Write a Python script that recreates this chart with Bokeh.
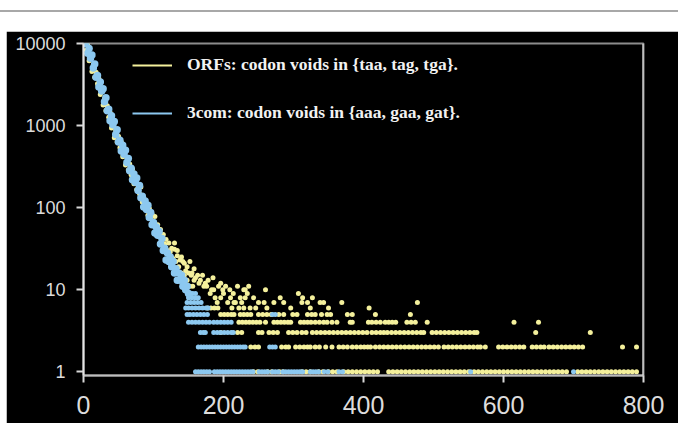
from bokeh.plotting import figure
from bokeh.models import (ColumnDataSource, Range1d, FixedTicker, NumeralTickFormatter,
                          Span, Legend, LegendItem, Div)
from bokeh.layouts import column, row
from bokeh.embed import file_html
from bokeh.resources import INLINE

# ---------------- data ----------------
x_ticks = [0, 200, 400, 600, 800]
y_ticks = [1, 10, 100, 1000, 10000]

label_orf = "ORFs: codon voids in {taa, tag, tga}."
label_3com = "3com: codon voids in {aaa, gaa, gat}."

# steep part, ORFs
orf_steep_x = [0, 2, 4, 6, 8, 10, 12, 14, 16, 18, 20, 22, 24, 26, 28, 30, 32, 34, 36, 38,
               40, 42, 44, 46, 48, 50, 52, 54, 56, 58, 60, 62, 64, 66, 68, 70, 72, 74, 76, 78,
               80, 82, 84, 86, 88, 90, 92, 94, 96, 98, 100, 102, 104, 106, 108, 110, 112, 114,
               116, 118, 120, 122, 124, 126, 128, 130, 132, 134, 136, 138, 140, 142, 144, 146,
               148, 150, 152, 154, 156, 158]
orf_steep_y = [10000, 11480, 8318, 9550, 6166, 6761, 4571, 5495, 3890, 4467, 3236, 3715, 2399,
               2630, 1778, 2138, 1514, 1738, 1259, 1445, 933, 1023, 708, 871, 631, 741, 537, 631,
               417, 468, 331, 407, 288, 339, 251, 295, 195, 219, 166, 186, 148, 178, 117, 132,
               100, 112, 81, 98, 74, 83, 65, 78, 55, 62, 46, 54, 39, 47, 36, 41, 30, 37, 29, 32,
               24, 31, 22, 26, 19, 23, 16, 22, 15, 17, 13, 16, 11, 15, 11, 13]

# transition scatter, ORFs
orf_mid_x = [130, 134, 140, 144, 148, 152, 155, 158, 160, 163, 165, 167, 170, 172, 174, 176,
             178, 181, 183, 185, 186, 188, 191, 193, 196, 196, 199, 200, 203, 206, 209, 210,
             212, 214, 217, 220, 222, 224, 226, 229, 231, 236, 238]
orf_mid_y = [37, 30, 25, 21, 19, 22, 16, 18, 14, 15, 12, 13, 15, 11, 12, 11,
             13, 9, 10, 14, 10, 8, 7, 11, 12, 8, 10, 9, 11, 7, 10, 8,
             6, 9, 7, 11, 6, 8, 7, 10, 8, 11, 6]

# tail, ORFs: x positions for each count level
orf_c1 = [243, 249, 263, 269, 280, 285, 312, 318, 324, 336, 342, 350, 356, 362, 372, 378, 384,
          390, 396, 402, 408, 414, 420, 436, 442, 448, 454, 460, 466, 472, 478, 484, 490, 496,
          502, 508, 514, 520, 526, 532, 538, 544, 550, 558, 564, 570, 576, 582, 588, 594, 600,
          606, 612, 618, 624, 630, 636, 642, 648, 654, 660, 666, 672, 678, 684, 690, 706, 712,
          718, 724, 730, 736, 742, 748, 754, 760, 766, 772, 778, 784, 790]
orf_c2 = [239, 245, 250, 283, 289, 293, 303, 309, 315, 320, 324, 331, 337, 346, 355, 365, 371,
          377, 384, 390, 396, 401, 406, 410, 417, 423, 429, 435, 441, 447, 453, 459, 465, 471,
          477, 483, 489, 495, 501, 507, 515, 521, 527, 533, 539, 545, 551, 557, 563, 567, 574,
          593, 599, 605, 611, 617, 623, 629, 641, 647, 653, 658, 665, 671, 677, 683, 689, 695,
          701, 707, 713, 770, 790]
orf_c3 = [196, 220, 226, 250, 255, 265, 271, 277, 293, 299, 305, 312, 318, 327, 333, 339, 345,
          351, 357, 363, 369, 375, 381, 387, 393, 399, 405, 412, 418, 424, 429, 434, 440, 446,
          452, 458, 464, 470, 476, 482, 486, 498, 504, 510, 516, 522, 528, 534, 540, 546, 552,
          558, 562, 646, 724]
orf_c4 = [222, 227, 232, 237, 242, 247, 252, 260, 272, 277, 282, 287, 292, 296, 310, 315, 320,
          325, 331, 337, 343, 348, 355, 362, 381, 384, 407, 412, 418, 424, 431, 436, 441, 446,
          462, 468, 474, 491, 615, 650]
orf_c5 = [196, 201, 206, 211, 215, 224, 229, 234, 239, 250, 256, 262, 268, 279, 286, 299, 305,
          320, 326, 331, 340, 348, 353, 377, 384, 417, 467]
orf_c6 = [177, 182, 187, 192, 229, 246, 262, 296, 324, 350, 408]
orf_c7 = [215, 250, 258, 272, 286, 312, 320, 338, 343, 369, 477]
orf_c8 = [243, 281, 313, 327]
orf_c9 = [234, 307]
orf_c10 = [231, 260]

# steep part, 3com
com_steep_x = [0, 2, 4, 6, 8, 10, 12, 14, 16, 18, 20, 22, 24, 26, 28, 30, 32, 34, 36, 38,
               40, 42, 44, 46, 48, 50, 52, 54, 56, 58, 60, 62, 64, 66, 68, 70, 72, 74, 76, 78,
               80, 82, 84, 86, 88, 90, 92, 94, 96, 98, 100, 102, 104, 106, 108, 110, 112, 114,
               116, 118, 120, 122, 124, 126, 128, 130, 132, 134, 136, 138, 140, 142, 144, 146,
               148, 150]
com_steep_y = [14450, 10000, 10470, 7586, 8710, 6607, 7244, 5012, 5623, 3890, 4074, 2951, 3388,
               2630, 2818, 1950, 2188, 1514, 1585, 1148, 1318, 1023, 1122, 776, 891, 631, 661,
               490, 575, 447, 501, 355, 398, 282, 302, 219, 257, 204, 229, 162, 186, 132, 138,
               102, 120, 95, 107, 76, 87, 62, 66, 49, 58, 46, 51, 36, 42, 30, 32, 23, 28, 22,
               25, 19, 22, 16, 18, 13, 16, 13, 15, 11, 13, 10, 11, 9]

# tail, 3com: x positions for each count level
com_c1 = [160, 164, 168, 172, 176, 180, 187, 191, 195, 199, 203, 207, 211, 215, 219, 223, 227,
          231, 235, 239, 242, 251, 255, 259, 263, 270, 274, 278, 285, 289, 293, 297, 301, 305,
          309, 313, 324, 328, 332, 336, 344, 349, 365, 370, 553, 700]
com_c2 = [164, 168, 172, 176, 180, 184, 188, 192, 196, 200, 204, 208, 212, 216, 220, 224, 228,
          231, 266, 270, 274]
com_c3 = [167, 171, 174, 186, 191, 196, 201, 206, 211, 214]
com_c4 = [150, 155, 160, 165, 170, 175, 180, 186, 191, 196, 201, 206, 211]
com_c5 = [148, 152, 157, 162, 167, 172, 177, 270, 274]
com_c6 = [146, 150, 155, 160, 165, 170, 175, 178]
com_c7 = [148, 153, 158, 163, 168]
com_c8 = [150, 155, 160, 164]
com_c9 = [152, 156, 160]

# ---------------- build sources ----------------
def gather(steep_x, steep_y, mid_x, mid_y, levels, steep_size, tail_size):
    xs = list(steep_x) + list(mid_x)
    ys = list(steep_y) + list(mid_y)
    sz = [steep_size] * len(steep_x) + [tail_size] * len(mid_x)
    for lvl, lst in levels:
        xs += lst
        ys += [lvl] * len(lst)
        sz += [tail_size] * len(lst)
    return ColumnDataSource(dict(x=xs, y=ys, s=sz))

orf_src = gather(orf_steep_x, orf_steep_y, orf_mid_x, orf_mid_y,
                 [(1, orf_c1), (2, orf_c2), (3, orf_c3), (4, orf_c4), (5, orf_c5),
                  (6, orf_c6), (7, orf_c7), (8, orf_c8), (9, orf_c9), (10, orf_c10)],
                 5, 5)
com_src = gather(com_steep_x, com_steep_y, [], [],
                 [(1, com_c1), (2, com_c2), (3, com_c3), (4, com_c4), (5, com_c5),
                  (6, com_c6), (7, com_c7), (8, com_c8), (9, com_c9)],
                 7.5, 5)

YELLOW = "#f4f09c"
BLUE = "#8cc8f0"

p = figure(width=672, height=392, x_range=Range1d(0, 800), y_range=Range1d(0.9, 10000),
           y_axis_type="log", output_backend="svg", toolbar_location=None,
           min_border_left=77, min_border_right=35, min_border_top=12, min_border_bottom=48,
           background_fill_color="black", border_fill_color="black",
           outline_line_color="#8c8c8c", outline_line_width=2)

p.scatter("x", "y", source=orf_src, size="s", marker="circle",
          fill_color=YELLOW, line_color=None)
p.scatter("x", "y", source=com_src, size="s", marker="circle",
          fill_color=BLUE, line_color=None)

p.grid.visible = False

p.yaxis.ticker = FixedTicker(ticks=y_ticks)
p.yaxis.formatter = NumeralTickFormatter(format="0")
p.xaxis.ticker = FixedTicker(ticks=x_ticks)

for ax in (p.xaxis, p.yaxis):
    ax.major_tick_in = 0
    ax.major_tick_out = 7
    ax.minor_tick_line_color = None
    ax.major_tick_line_color = "#d8d8d8"
    ax.major_tick_line_width = 2
    ax.axis_line_width = 2
    ax.major_label_text_font = "Liberation Sans"
    ax.major_label_text_color = "#dcdcdc"

p.yaxis.axis_line_color = "#e4e4e4"
p.yaxis.major_label_text_font_size = "18px"
p.yaxis.major_label_standoff = 11
p.xaxis.axis_line_color = "#bdbdbd"
p.xaxis.major_label_text_font_size = "25px"
p.xaxis.major_label_standoff = 13

p.add_layout(Span(location=800, dimension="height", line_color="#f0f0f0", line_width=2))

nan = float("nan")
r_orf = p.line([nan], [nan], line_color=YELLOW, line_width=2)
r_com = p.line([nan], [nan], line_color=BLUE, line_width=2)
legend = Legend(items=[LegendItem(label=label_orf, renderers=[r_orf]),
                       LegendItem(label=label_3com, renderers=[r_com])],
                location=(49, 252), orientation="vertical",
                background_fill_alpha=0, border_line_alpha=0,
                padding=0, margin=0, spacing=27,
                glyph_width=40, glyph_height=20, label_height=20, label_standoff=15,
                label_text_font="Liberation Serif", label_text_font_style="bold",
                label_text_font_size="17.5px", label_text_color="#f2f2f2")
p.add_layout(legend)

top = Div(text='<div style="height:2px;background:#a8a8a8;margin-top:3px;width:678px"></div>',
          width=678, height=31, margin=0)
left_gap = Div(text="", width=6, height=392, margin=0)

layout = column(top, row(left_gap, p, spacing=0), spacing=0)

open("out.html", "w").write(file_html(layout, INLINE))
